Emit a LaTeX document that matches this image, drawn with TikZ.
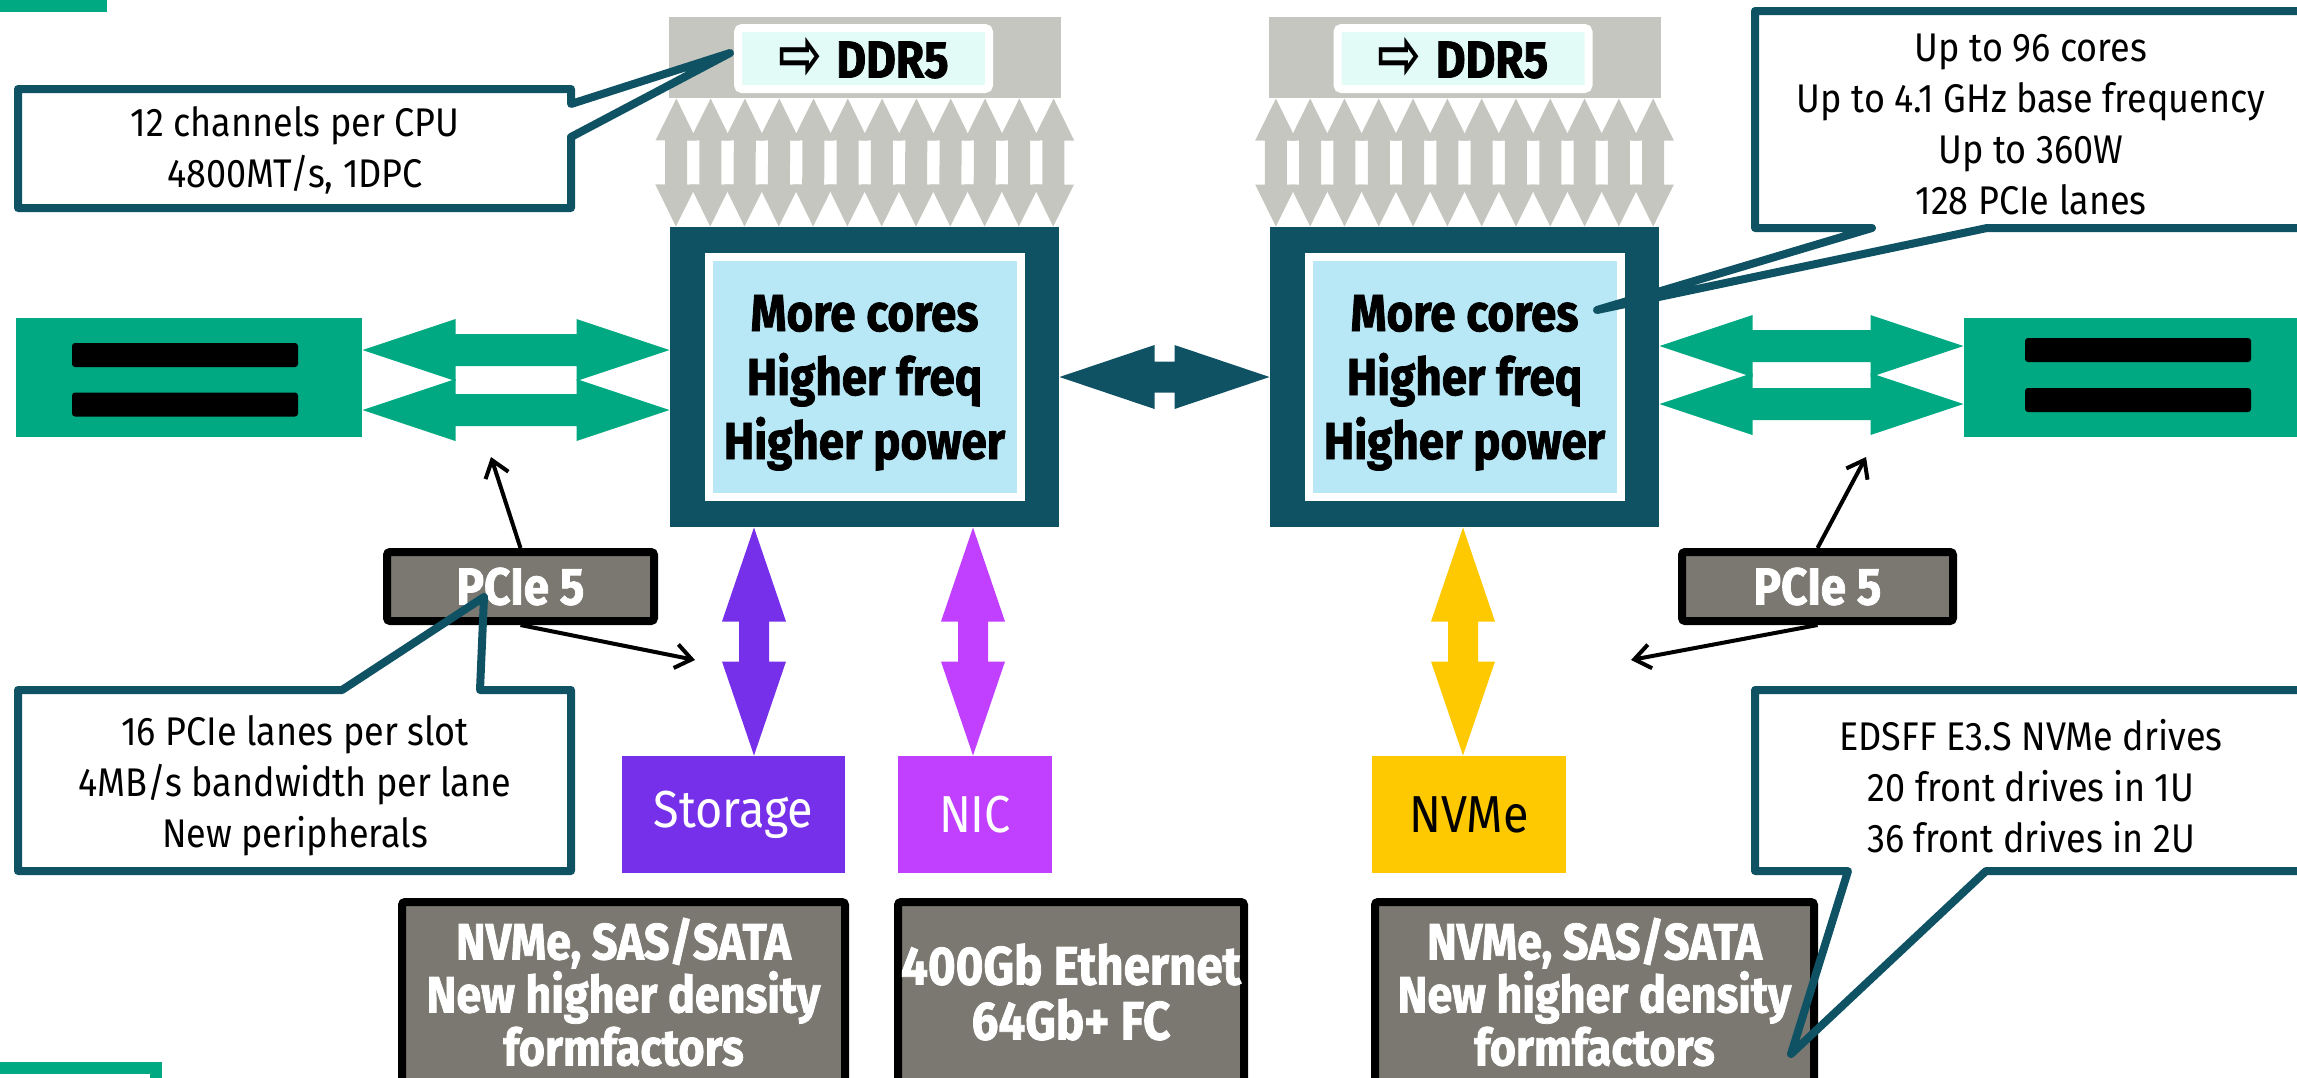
\documentclass[tikz,border=0pt]{standalone}
\usepackage{fontspec}
\setmainfont{Fira Sans}[FakeStretch=0.9, BoldFeatures={FakeStretch=0.88,FakeBold=1.5}]
\newfontfamily\arrowfont{DejaVu Sans}
\usetikzlibrary{calc,arrows.meta}

\definecolor{hpeteal}{HTML}{0F5264}
\definecolor{hpegreen}{HTML}{01A982}
\definecolor{corelight}{HTML}{B8E8F5}
\definecolor{ddrgray}{HTML}{C6C6C0}
\definecolor{ddrcyan}{HTML}{E2FBF7}
\definecolor{boxgray}{HTML}{7A7870}
\definecolor{storepurple}{HTML}{7630EA}
\definecolor{nicpink}{HTML}{C140FF}
\definecolor{nvmeyellow}{HTML}{FEC901}

\tikzset{every picture/.style={line width=1pt}}
\tikzset{
  plainbox/.style={rectangle, inner sep=0pt, align=center},
  cpubox/.style={plainbox, fill=hpeteal, minimum width=389pt, minimum height=300pt},
  corebox/.style={plainbox, fill=corelight, draw=white, line width=8pt, minimum width=312pt, minimum height=240pt, text depth=0pt, font=\bfseries\fontsize{52}{64}\selectfont},
  ddrbox/.style={plainbox, fill=ddrgray, minimum width=392pt, minimum height=81pt},
  ddrtag/.style={plainbox, fill=ddrcyan, draw=white, line width=8pt, rounded corners=4pt, minimum width=251pt, minimum height=61pt, font=\bfseries\fontsize{52}{50}\selectfont},
  card/.style={plainbox, fill=hpegreen, minimum width=346pt, minimum height=119pt},
  slotbar/.style={plainbox, fill=black, rounded corners=3pt, minimum width=226pt, minimum height=24pt},
  pciebox/.style={plainbox, fill=boxgray, draw=black, line width=8pt, rounded corners=3pt, minimum height=69pt, text=white, font=\bfseries\fontsize{52}{50}\selectfont},
  portbox/.style={plainbox, minimum height=117pt, font=\fontsize{52}{50}\selectfont},
  mediabox/.style={plainbox, fill=boxgray, draw=black, line width=8pt, rounded corners=3pt, minimum height=180pt, text=white, font=\bfseries\fontsize{51}{53}\selectfont},
  notetext/.style={align=center, inner sep=0pt, font=\fontsize{40}{51}\selectfont},
  noteline/.style={draw=hpeteal, line width=8pt, line join=round},
  thinarrow/.style={-{Straight Barb[length=16pt,width=24pt]}, line width=4pt},
}

% block arrow with two heads: colour, tip, tip, head length, head half width, shaft half width
\newcommand{\blockarrow}[6]{%
  \path #2 coordinate (ba-a) #3 coordinate (ba-b);
  \path ($(ba-a)!#4!(ba-b)$) coordinate (ba-ha) ($(ba-b)!#4!(ba-a)$) coordinate (ba-hb);
  \fill[#1] (ba-a) -- ($(ba-ha)!#5!90:(ba-b)$) -- ($(ba-ha)!#6!90:(ba-b)$)
    -- ($(ba-hb)!#6!-90:(ba-a)$) -- ($(ba-hb)!#5!-90:(ba-a)$) -- (ba-b)
    -- ($(ba-hb)!#5!90:(ba-a)$) -- ($(ba-hb)!#6!90:(ba-a)$)
    -- ($(ba-ha)!#6!-90:(ba-b)$) -- ($(ba-ha)!#5!-90:(ba-b)$) -- cycle;}
\newcommand{\ddrmark}{\raisebox{-2pt}{\scalebox{1.05}[1.45]{\arrowfont\bfseries\fontsize{50}{50}\selectfont ⇨}}}

\begin{document}
\begin{tikzpicture}[x=1pt,y=1pt,yscale=-1,xscale=1]
\useasboundingbox (0,0) rectangle (2297,1077);
\clip (0,0) rectangle (2297,1077);

%Shape: Rectangle [corner marks]
\fill[hpegreen] (0,0) rectangle (107,12);
\draw[hpegreen, line width=12pt] (-10,1068) -- (156,1068) -- (156,1090);

%Memory blocks
\node[ddrbox] (ddrL) at (865,57.5) {};
\node[ddrbox] (ddrR) at (1464.5,57.5) {};

%Processors
\node[cpubox] (cpuL) at (864.5,377) {};
\node[corebox] (coreL) at (cpuL) {More cores\\Higher freq\\Higher power};
\node[cpubox] (cpuR) at (1464.5,377) {};
\node[corebox] (coreR) at (cpuR) {More cores\\Higher freq\\Higher power};

%Memory channels
\foreach \i in {0,...,11}{
  \blockarrow{ddrgray}{([xshift={(\i-5.5)*34.3pt}]ddrL.south)}{([xshift={(\i-5.5)*34.3pt}]cpuL.north)}{42pt}{20.7pt}{11pt}
  \blockarrow{ddrgray}{([xshift={(\i-5.5)*34.3pt}]ddrR.south)}{([xshift={(\i-5.5)*34.3pt}]cpuR.north)}{42pt}{20.7pt}{11pt}
}

%Callout: memory
\draw[noteline, fill=white] (18,89) -- (571,89) -- (571,104) -- (730,53) -- (571,137) -- (571,208) -- (18,208) -- cycle;
% Text Node
\node[notetext] (noteDdr) at (295,150) {12 channels per CPU\\4800MT/s, 1DPC};

\node[ddrtag] (ddrtagL) at (863.5,58.5) {\ddrmark\hspace{14pt}DDR5};
\node[ddrtag] (ddrtagR) at (1463,58.5) {\ddrmark\hspace{14pt}DDR5};

%Expansion cards
\node[card] (cardL) at (189,377.5) {};
\node[slotbar] (slotL1) at (185,355) {};
\node[slotbar] (slotL2) at (185,404.5) {};
\node[card] (cardR) at (2137,377.5) {};
\node[slotbar] (slotR1) at (2138,350) {};
\node[slotbar] (slotR2) at (2138,400) {};

%Block arrows
\blockarrow{hpegreen}{(cardL.east |- 0,350)}{(cpuL.west |- 0,350)}{93pt}{31pt}{16pt}
\blockarrow{hpegreen}{(cardL.east |- 0,410)}{(cpuL.west |- 0,410)}{93pt}{31pt}{16pt}
\blockarrow{hpegreen}{(cpuR.east |- 0,346)}{(cardR.west |- 0,346)}{93pt}{31pt}{16pt}
\blockarrow{hpegreen}{(cpuR.east |- 0,404)}{(cardR.west |- 0,404)}{93pt}{31pt}{16pt}
\blockarrow{hpeteal}{(cpuL.east)}{(cpuR.west)}{95pt}{32pt}{15.5pt}

%I/O boxes
\node[portbox, fill=storepurple, text=white, minimum width=223pt] (storage) at (733.5,814.5) {Storage};
\node[portbox, fill=nicpink, text=white, minimum width=154pt] (nic) at (975,814.5) {NIC};
\node[portbox, fill=nvmeyellow, minimum width=194pt] (nvme) at (1469,814.5) {NVMe};

\blockarrow{storepurple}{(754,0 |- cpuL.south)}{(754,0 |- storage.north)}{94pt}{32pt}{15pt}
\blockarrow{nicpink}{(973,0 |- cpuL.south)}{(973,0 |- nic.north)}{94pt}{32pt}{15pt}
\blockarrow{nvmeyellow}{(1463,0 |- cpuR.south)}{(1463,0 |- nvme.north)}{94pt}{32pt}{15pt}

%PCIe labels
\node[pciebox, minimum width=267pt] (pcieL) at (520.5,586.5) {PCIe 5};
\node[pciebox, minimum width=271pt] (pcieR) at (1817.5,586.5) {PCIe 5};
\coordinate (pcieLup) at (491,457);
\coordinate (pcieLdn) at (695,660);
\coordinate (pcieRup) at (1866,457);
\coordinate (pcieRdn) at (1631,660);
\draw[thinarrow] (pcieL.north) -- (pcieLup);
\draw[thinarrow] (pcieL.south) -- (pcieLdn);
\draw[thinarrow] (pcieR.north) -- (pcieRup);
\draw[thinarrow] (pcieR.south) -- (pcieRdn);

%Media boxes
\node[mediabox, minimum width=443pt] (mediaL) at (623.5,992) {NVMe, SAS/SATA\\New higher density\\formfactors};
\node[mediabox, minimum width=346pt, font=\bfseries\fontsize{54}{55}\selectfont] (mediaN) at (1071,992) {400Gb Ethernet\\64Gb+ FC};
\node[mediabox, minimum width=439pt] (mediaR) at (1594.5,992) {NVMe, SAS/SATA\\New higher density\\formfactors};

%Callout: slots
\draw[noteline] (18,690) -- (342,690) -- (484,597) -- (480,690) -- (571,690) -- (571,871) -- (18,871) -- cycle;
% Text Node
\node[notetext] (notePcie) at (295,786) {16 PCIe lanes per slot\\4MB/s bandwidth per lane\\New peripherals};

%Callout: processor
\draw[noteline, fill=white] (1755,11) -- (2310,11) -- (2310,228) -- (1987,228) -- (1597,310) -- (1872,228) -- (1755,228) -- cycle;
% Text Node
\node[notetext] (noteCpu) at (2031,124) {Up to 96 cores\\Up to 4.1 GHz base frequency\\Up to 360W\\128 PCIe lanes};

%Callout: drives
\draw[noteline] (1755,690) -- (2310,690) -- (2310,871) -- (1986,871) -- (1791,1054) -- (1848,871) -- (1755,871) -- cycle;
% Text Node
\node[notetext] (noteNvme) at (2031,786) {EDSFF E3.S NVMe drives\\20 front drives in 1U\\36 front drives in 2U};

\end{tikzpicture}
\end{document}
